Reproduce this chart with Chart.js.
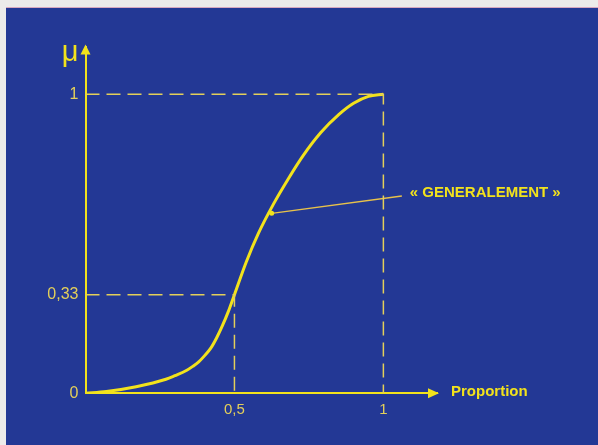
<!DOCTYPE html>
<html>
<head>
<meta charset="utf-8">
<script src="https://cdn.jsdelivr.net/npm/chart.js@4"></script>
<style>
  html, body { margin: 0; padding: 0; background: #ecebea; }
  #frame {
    position: absolute; left: 6px; top: 7px; width: 592px; height: 438px;
    background: #233895; border-top: 1px solid #d8a8c0;
  }
  #frame canvas { display: block; }
</style>
</head>
<body>
<div id="frame"><canvas id="chart" width="592" height="437"></canvas></div>
<script>
// courbe « généralement » : proportion -> degré d'appartenance
const curveX = [0, 0.07, 0.17, 0.27, 0.30, 0.34, 0.36, 0.38, 0.40, 0.42, 0.44, 0.46, 0.48, 0.50, 0.54, 0.58, 0.63, 0.68, 0.73, 0.79, 0.85, 0.90, 0.95, 1];
const curveY = [0, 0.006, 0.022, 0.047, 0.059, 0.077, 0.09, 0.105, 0.126, 0.15, 0.185, 0.227, 0.275, 0.33, 0.44, 0.534, 0.631, 0.716, 0.794, 0.872, 0.932, 0.97, 0.993, 1];

// repères en tirets
const guideOneX = [0, 1, 1];
const guideOneY = [1, 1, 0];
const guideMidX = [0, 0.5, 0.5];
const guideMidY = [0.33, 0.33, 0];

// trait de rappel vers l'étiquette
const leaderX = [0.625, 1.062];
const leaderY = [0.602, 0.66];
const leaderText = '« GENERALEMENT »';

const xTicks = [0.5, 1];
const yTicks = [0, 0.33, 1];
const xTitle = 'Proportion';
const yTitle = 'μ';

const YELLOW = '#f2e21c';
const DASH = '#e3cf5a';

const pts = (xs, ys) => xs.map((x, i) => ({ x: x, y: ys[i] }));
const fmt = v => String(v).replace('.', ',');

// flèches des axes + textes libres
const decor = {
  id: 'decor',
  afterDraw(chart) {
    const { ctx, chartArea: a, scales: { x, y } } = chart;
    ctx.save();
    ctx.fillStyle = YELLOW;
    // flèche verticale
    ctx.beginPath();
    ctx.moveTo(a.left, a.top - 2);
    ctx.lineTo(a.left - 5, a.top + 8);
    ctx.lineTo(a.left + 5, a.top + 8);
    ctx.closePath();
    ctx.fill();
    // flèche horizontale
    ctx.beginPath();
    ctx.moveTo(a.right + 2, a.bottom);
    ctx.lineTo(a.right - 9, a.bottom - 5);
    ctx.lineTo(a.right - 9, a.bottom + 5);
    ctx.closePath();
    ctx.fill();

    ctx.font = '29px "Liberation Sans", sans-serif';
    ctx.textAlign = 'right';
    ctx.textBaseline = 'alphabetic';
    ctx.fillText(yTitle, a.left - 7, a.top + 14);

    ctx.font = 'bold 15px "Liberation Sans", sans-serif';
    ctx.textAlign = 'left';
    ctx.textBaseline = 'middle';
    ctx.fillText(xTitle, a.right + 14, a.bottom - 1);

    const lx = x.getPixelForValue(leaderX[1]);
    const ly = y.getPixelForValue(leaderY[1]);
    ctx.fillText(leaderText, lx + 8, ly - 3);
    ctx.restore();
  }
};

new Chart(document.getElementById('chart'), {
  type: 'line',
  data: {
    datasets: [
      {
        data: pts(guideOneX, guideOneY),
        borderColor: DASH, borderWidth: 1.5, borderDash: [14, 7],
        pointRadius: 0, tension: 0,
      },
      {
        data: pts(guideMidX, guideMidY),
        borderColor: DASH, borderWidth: 1.5, borderDash: [14, 7],
        pointRadius: 0, tension: 0,
      },
      {
        data: pts(leaderX, leaderY),
        borderColor: '#e8c24a', borderWidth: 1.3,
        pointRadius: [2.5, 0], pointBackgroundColor: YELLOW, pointBorderWidth: 0,
        tension: 0,
      },
      {
        data: pts(curveX, curveY),
        borderColor: YELLOW, borderWidth: 3,
        pointRadius: 0, cubicInterpolationMode: 'monotone',
      },
    ],
  },
  options: {
    responsive: false,
    animation: false,
    layout: { padding: { left: 41.5, right: 161, top: 38.5, bottom: 19.7 } },
    plugins: { legend: { display: false }, tooltip: { enabled: false } },
    scales: {
      x: {
        type: 'linear', min: 0, max: 1.18,
        afterBuildTicks: s => { s.ticks = xTicks.map(v => ({ value: v })); },
        afterFit: s => { s.height = 32; },
        grid: { display: false, drawTicks: false },
        border: { display: true, color: YELLOW, width: 2 },
        ticks: {
          color: DASH, padding: 8,
          font: { size: 15, family: '"Liberation Sans", sans-serif' },
          callback: v => fmt(v),
        },
      },
      y: {
        type: 'linear', min: 0, max: 1.16,
        afterBuildTicks: s => { s.ticks = yTicks.map(v => ({ value: v })); },
        afterFit: s => { s.width = 38; },
        grid: { display: false, drawTicks: false },
        border: { display: true, color: YELLOW, width: 2 },
        ticks: {
          color: DASH, padding: 7,
          font: { size: 16, family: '"Liberation Sans", sans-serif' },
          callback: v => fmt(v),
        },
      },
    },
  },
  plugins: [decor],
});
</script>
</body>
</html>
